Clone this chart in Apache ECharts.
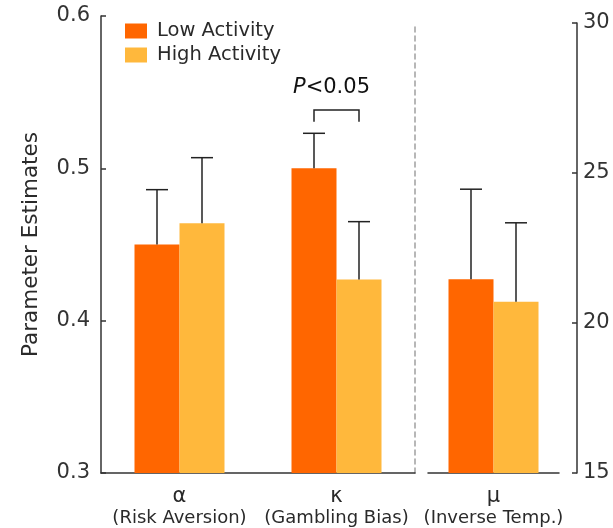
<!DOCTYPE html>
<html>
<head>
<meta charset="utf-8">
<script src="https://cdn.jsdelivr.net/npm/echarts@6/dist/echarts.min.js"></script>
<style>
  html, body { margin: 0; padding: 0; background: #fff; }
  #chart { width: 613px; height: 528px; }
</style>
</head>
<body>
<div id="chart"></div>
<script>
// ---- data ----
const categories = ['α', 'κ', 'μ'];
const subLabels = ['(Risk Aversion)', '(Gambling Bias)', '(Inverse Temp.)'];
const seriesNames = ['Low Activity', 'High Activity'];
// α and κ on left axis, μ on right axis
const lowMean = [0.450, 0.500, 21.46];
const lowUpper = [0.486, 0.523, 24.46];
const highMean = [0.464, 0.427, 20.71];
const highUpper = [0.507, 0.465, 23.34];
const leftAxisRange = [0.3, 0.6, 0.1];
const rightAxisRange = [15, 30, 5];
// significance bracket on κ: [category index, leg bottom, bracket top, label value]
const sigBracket = [1, 0.5305, 0.5383, 0.5530];
const sigText = ['P', '<0.05'];

// ---- styling ----
const FONT = 'DejaVu Sans';
const LOW_COLOR = '#FF6600';
const HIGH_COLOR = '#FFB83C';
const AXIS_COLOR = '#333333';
const TEXT_COLOR = '#2a2a2a';
const BAR_W = 45;

const chart = echarts.init(document.getElementById('chart'));

function errData(from, to) {
  const out = [];
  for (let i = from; i < to; i++) {
    out.push([i - from, lowMean[i], lowUpper[i], -1]);
    out.push([i - from, highMean[i], highUpper[i], 1]);
  }
  return out;
}

function renderErr(params, api) {
  const idx = api.value(0);
  const mean = api.value(1);
  const up = api.value(2);
  const side = api.value(3);
  const p0 = api.coord([idx, mean]);
  const p1 = api.coord([idx, up]);
  const x = p0[0] + side * BAR_W / 2;
  const cap = 11;
  const style = { stroke: '#222', lineWidth: 1.5, fill: null };
  return {
    type: 'group',
    children: [
      { type: 'line', shape: { x1: x, y1: p0[1], x2: x, y2: p1[1] }, style: style },
      { type: 'line', shape: { x1: x - cap, y1: p1[1], x2: x + cap, y2: p1[1] }, style: style }
    ]
  };
}

function renderBracket(params, api) {
  const idx = api.value(0);
  const lo = api.coord([idx, api.value(1)]);
  const hi = api.coord([idx, api.value(2)]);
  const lab = api.coord([idx, api.value(3)]);
  const xl = lo[0] - BAR_W / 2;
  const xr = lo[0] + BAR_W / 2;
  return {
    type: 'group',
    children: [
      { type: 'polyline', shape: { points: [[xl, lo[1]], [xl, hi[1]], [xr, hi[1]], [xr, lo[1]]] },
        style: { stroke: '#222', lineWidth: 1.5, fill: null } },
      { type: 'text', x: lab[0] - 5, y: lab[1],
        style: {
          text: '{i|' + sigText[0] + '}{n|' + sigText[1] + '}',
          align: 'center', verticalAlign: 'middle',
          rich: {
            i: { fontFamily: FONT, fontSize: 21, fontStyle: 'italic', fill: '#111' },
            n: { fontFamily: FONT, fontSize: 21, fill: '#111' }
          }
        } }
    ]
  };
}

const xLabel = {
  interval: 0,
  margin: 12,
  formatter: function (v) {
    const i = categories.indexOf(v);
    return '{g|' + v + '}\n{s|' + subLabels[i] + '}';
  },
  rich: {
    g: { fontFamily: FONT, fontSize: 21, lineHeight: 23, color: TEXT_COLOR },
    s: { fontFamily: FONT, fontSize: 18, lineHeight: 21, color: TEXT_COLOR }
  }
};

const option = {
  animation: false,
  backgroundColor: '#fff',
  legend: {
    data: seriesNames,
    orient: 'vertical',
    left: 125,
    top: 21,
    padding: 0,
    itemWidth: 22,
    itemHeight: 15,
    itemGap: 4,
    icon: 'rect',
    textStyle: { fontFamily: FONT, fontSize: 19.5, color: TEXT_COLOR, padding: [0, 0, 0, 5] }
  },
  grid: [
    { left: 101, width: 314, top: 16, bottom: 55, containLabel: false },
    { left: 428, width: 131, top: 23, bottom: 55, containLabel: false }
  ],
  xAxis: [
    { type: 'category', gridIndex: 0, data: categories.slice(0, 2),
      axisLine: { show: true, lineStyle: { color: AXIS_COLOR, width: 1.5 } },
      axisTick: { show: false }, axisLabel: xLabel },
    { type: 'category', gridIndex: 1, data: categories.slice(2),
      axisLine: { show: true, lineStyle: { color: AXIS_COLOR, width: 1.5 } },
      axisTick: { show: false }, axisLabel: xLabel }
  ],
  yAxis: [
    { type: 'value', gridIndex: 0, position: 'left',
      min: leftAxisRange[0], max: leftAxisRange[1], interval: leftAxisRange[2],
      name: 'Parameter Estimates', nameLocation: 'middle', nameGap: 59,
      nameTextStyle: { fontFamily: FONT, fontSize: 21.5, color: TEXT_COLOR },
      axisLine: { show: true, lineStyle: { color: AXIS_COLOR, width: 1.5 } },
      axisTick: { show: true, inside: true, length: 5, lineStyle: { color: AXIS_COLOR, width: 1.5 } },
      axisLabel: { margin: 11, fontFamily: FONT, fontSize: 21, color: '#333',
        formatter: function (v) { return v.toFixed(1); } },
      splitLine: { show: false } },
    { type: 'value', gridIndex: 1, position: 'right', offset: 18,
      min: rightAxisRange[0], max: rightAxisRange[1], interval: rightAxisRange[2],
      axisLine: { show: true, lineStyle: { color: AXIS_COLOR, width: 1.5 } },
      axisTick: { show: true, inside: true, length: 5, lineStyle: { color: AXIS_COLOR, width: 1.5 } },
      axisLabel: { margin: 6, fontFamily: FONT, fontSize: 21, color: '#333' },
      splitLine: { show: false } },
    { type: 'value', gridIndex: 1, position: 'left', offset: 13,
      min: rightAxisRange[0], max: rightAxisRange[1], interval: rightAxisRange[2],
      axisLine: { show: true, lineStyle: { color: '#a0a0a0', width: 1.5, type: [5, 4] } },
      axisTick: { show: false }, axisLabel: { show: false }, splitLine: { show: false } }
  ],
  series: [
    { name: seriesNames[0], type: 'bar', xAxisIndex: 0, yAxisIndex: 0,
      data: lowMean.slice(0, 2), barWidth: BAR_W, barGap: '0%',
      itemStyle: { color: LOW_COLOR } },
    { name: seriesNames[1], type: 'bar', xAxisIndex: 0, yAxisIndex: 0,
      data: highMean.slice(0, 2), barWidth: BAR_W, barGap: '0%',
      itemStyle: { color: HIGH_COLOR } },
    { name: seriesNames[0], type: 'bar', xAxisIndex: 1, yAxisIndex: 1,
      data: lowMean.slice(2), barWidth: BAR_W, barGap: '0%',
      itemStyle: { color: LOW_COLOR } },
    { name: seriesNames[1], type: 'bar', xAxisIndex: 1, yAxisIndex: 1,
      data: highMean.slice(2), barWidth: BAR_W, barGap: '0%',
      itemStyle: { color: HIGH_COLOR } },
    { type: 'custom', xAxisIndex: 0, yAxisIndex: 0, z: 5, clip: false,
      renderItem: renderErr, data: errData(0, 2) },
    { type: 'custom', xAxisIndex: 1, yAxisIndex: 1, z: 5, clip: false,
      renderItem: renderErr, data: errData(2, 3) },
    { type: 'custom', xAxisIndex: 0, yAxisIndex: 0, z: 5, clip: false,
      renderItem: renderBracket, data: [sigBracket] }
  ]
};

chart.setOption(option);
</script>
</body>
</html>
